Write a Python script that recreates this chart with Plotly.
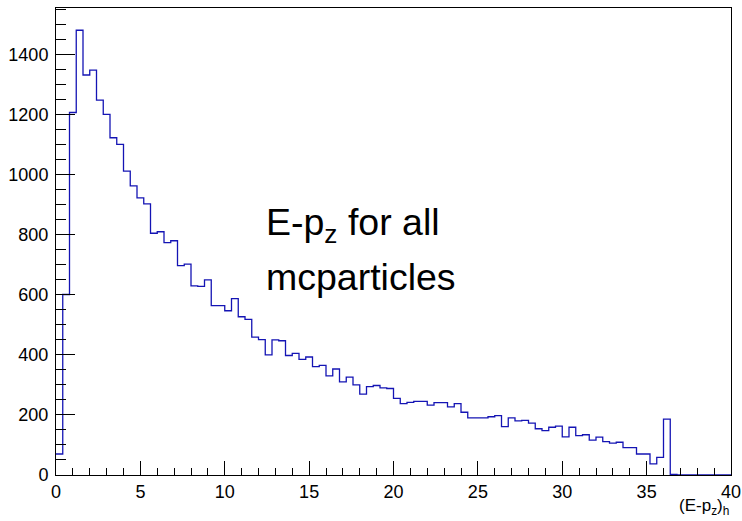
import numpy as np
import plotly.graph_objects as go

# Histogram definition: 100 bins from 0 to 40
x_min = 0.0
x_max = 40.0
n_bins = 100

counts = [
    70, 601, 1207, 1481, 1332, 1348, 1248, 1201, 1123, 1101,
    1012, 963, 923, 903, 805, 810, 774, 780, 697, 702,
    630, 628, 650, 564, 564, 547, 587, 527, 518, 459,
    451, 400, 450, 447, 398, 405, 385, 393, 361, 365,
    330, 353, 310, 326, 300, 269, 294, 298, 290, 288,
    255, 238, 242, 245, 245, 233, 241, 241, 227, 238,
    209, 190, 190, 190, 194, 198, 161, 190, 180, 182,
    173, 154, 148, 159, 163, 127, 159, 131, 134, 116,
    126, 111, 106, 109, 91, 91, 70, 70, 37, 59,
    186, 2, 0, 0, 0, 0, 0, 0, 0, 0,
]

x_ticks = [0, 5, 10, 15, 20, 25, 30, 35, 40]
y_ticks = [0, 200, 400, 600, 800, 1000, 1200, 1400]

x_title = "(E-p<sub>z</sub>)<sub>h</sub>"
label_line1 = "E-p<sub>z</sub> for all"
label_line2 = "mcparticles"

edges = np.linspace(x_min, x_max, n_bins + 1)
xs = list(edges)
ys = list(counts) + [counts[-1]]
y_max = 1.05 * max(counts)

FONT = "Liberation Sans, Arial, sans-serif"

fig = go.Figure()
fig.add_trace(go.Scatter(
    x=xs, y=ys, mode="lines", line=dict(shape="hv", color="#1414b4", width=1.3),
    hoverinfo="skip", showlegend=False,
))

axis_common = dict(
    showgrid=False, zeroline=False, showline=True, linecolor="black", linewidth=1,
    mirror=True, ticks="inside", tickcolor="black", tickwidth=1, automargin=False,
    tickfont=dict(family=FONT, size=18, color="black"),
)

fig.update_xaxes(
    range=[x_min, x_max], tickvals=x_ticks, ticklen=14,
    minor=dict(ticks="inside", ticklen=7, dtick=1, tickcolor="black", tickwidth=1),
    **axis_common,
)
fig.update_yaxes(
    range=[0, y_max], tickvals=y_ticks, ticklen=19, ticklabelstandoff=3,
    minor=dict(ticks="inside", ticklen=9.5, dtick=50, tickcolor="black", tickwidth=1),
    **axis_common,
)

fig.add_annotation(
    x=x_max, y=-0.04, xref="x", yref="paper", text=x_title, showarrow=False,
    xanchor="right", yanchor="top", font=dict(family=FONT, size=17, color="black"),
)
fig.add_annotation(
    x=12.35, y=0.48, xref="x", yref="paper", text=label_line1, showarrow=False,
    xanchor="left", yanchor="bottom", font=dict(family=FONT, size=37.5, color="black"),
)
fig.add_annotation(
    x=12.35, y=0.375, xref="x", yref="paper", text=label_line2, showarrow=False,
    xanchor="left", yanchor="bottom", font=dict(family=FONT, size=37.5, color="black"),
)

fig.update_layout(
    width=742, height=521,
    margin=dict(l=56, r=11, t=8, b=46, autoexpand=False),
    paper_bgcolor="white", plot_bgcolor="white",
    font=dict(family=FONT, color="black"),
)

fig.write_html(
    "out.html",
    config={"displayModeBar": False},
    post_script="document.body.style.margin='0';",
)
